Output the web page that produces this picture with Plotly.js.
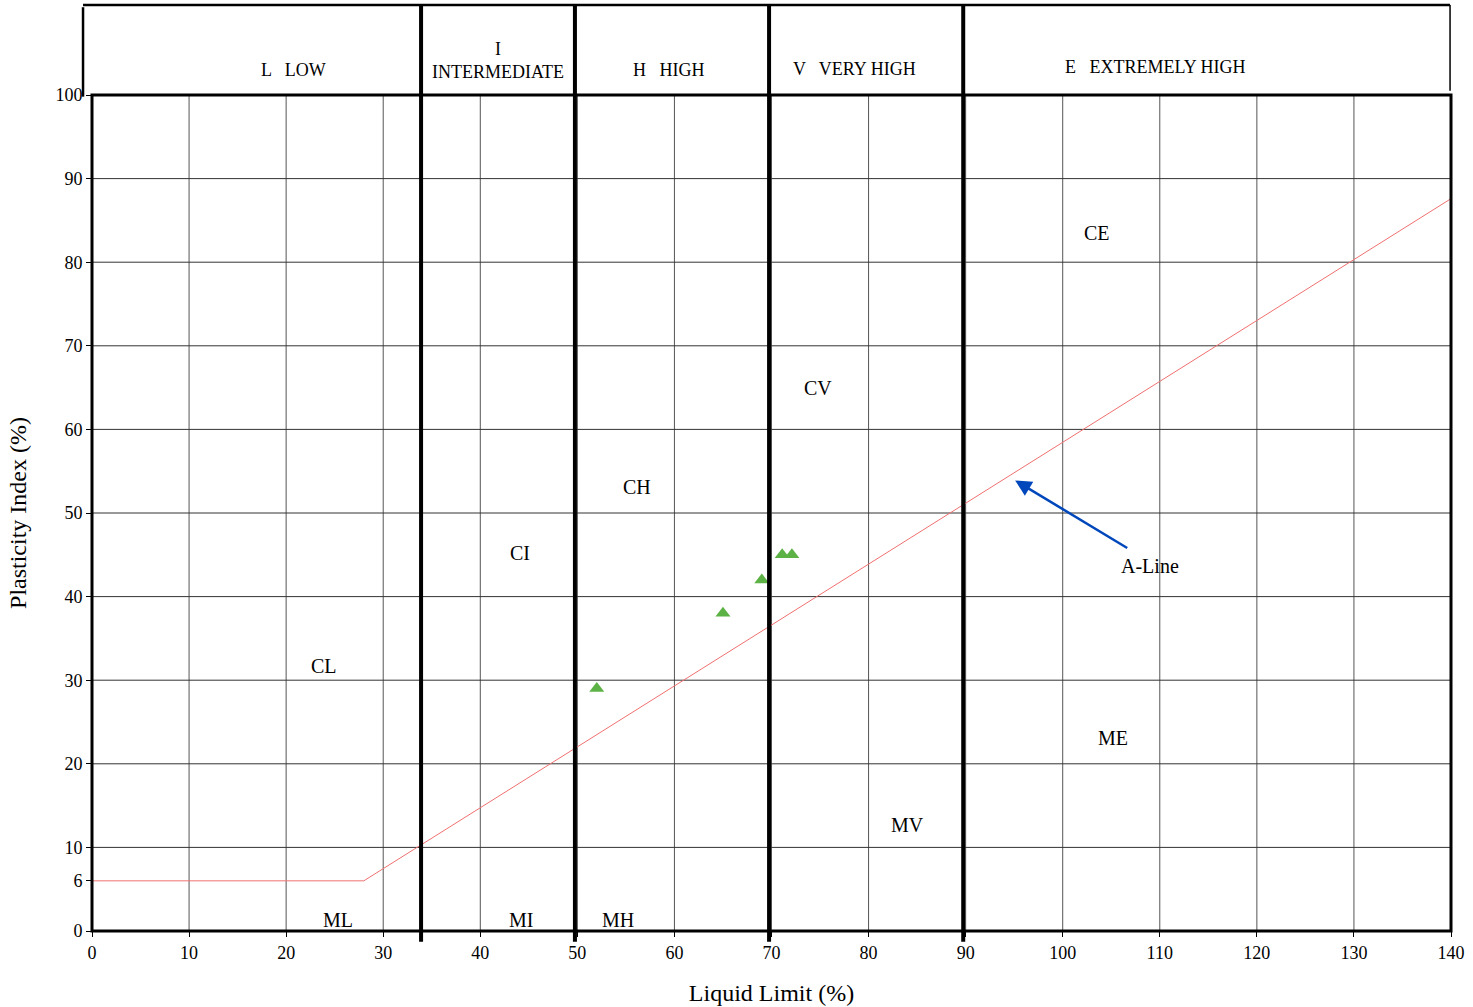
<!DOCTYPE html>
<html>
<head>
<meta charset="utf-8">
<script src="https://cdn.plot.ly/plotly-3.0.1.min.js"></script>
<style>html,body{margin:0;padding:0;background:#fff;}#chart{width:1473px;height:1007px;}</style>
</head>
<body>
<div id="chart"></div>
<script>
// Sample points
const liquidLimit = [52, 65, 69, 71.1, 72.1];
const plasticityIndex = [29, 38, 42, 45, 45];

// A-line vertices
const aLineLL = [0, 28, 140];
const aLinePI = [6, 6, 87.6];

// Zone boundaries (liquid limit) and header labels
const zoneBounds = [33.9, 49.75, 69.75, 89.75];
const zoneLabels = ["L   LOW", "I<br>INTERMEDIATE", "H   HIGH", "V   VERY HIGH", "E   EXTREMELY HIGH"];
const zoneLabelX = [20.8, 41.8, 59.4, 78.5, 109.6];
const zoneLabelY = [1.044, 1.069, 1.044, 1.046, 1.048];

// Region labels
const regionText = ["CL", "ML", "MI", "MH", "CI", "CH", "CV", "MV", "CE", "ME"];
const regionX = [23.9, 25.3, 44.2, 54.2, 44.1, 56.1, 74.8, 84, 103.5, 105.2];
const regionY = [31.7, 1.3, 1.3, 1.3, 45.2, 53.1, 65, 12.7, 83.5, 23.1];

// Ticks
const xTicks = [0,10,20,30,40,50,60,70,80,90,100,110,120,130,140];
const yTicks = [0,6,10,20,30,40,50,60,70,80,90,100];
const yGrid = [10,20,30,40,50,60,70,80,90];
const xGrid = [10,20,30,40,50,60,70,80,90,100,110,120,130];

const font = "Liberation Serif, Times New Roman, serif";

const shapes = [];
xGrid.forEach(v => shapes.push({type:'line', xref:'x', yref:'paper', x0:v, x1:v, y0:0, y1:1, line:{color:'#555', width:1}, layer:'below'}));
yGrid.forEach(v => shapes.push({type:'line', xref:'paper', yref:'y', x0:0, x1:1, y0:v, y1:v, line:{color:'#333', width:1}, layer:'below'}));
// header box
shapes.push({type:'line', xref:'paper', yref:'paper', x0:-0.0066, x1:0.9993, y0:1.1077, y1:1.1077, line:{color:'#000', width:2.5}});
shapes.push({type:'line', xref:'paper', yref:'paper', x0:-0.0066, x1:-0.0066, y0:1.105, y1:0.998, line:{color:'#000', width:2.5}});
shapes.push({type:'line', xref:'paper', yref:'paper', x0:0.9993, x1:0.9993, y0:1.1077, y1:1.005, line:{color:'#000', width:1.5}});
zoneBounds.forEach(v => shapes.push({type:'line', xref:'x', yref:'paper', x0:v, x1:v, y0:-0.013, y1:1.1077, line:{color:'#000', width:4}}));
// plot frame
shapes.push({type:'rect', xref:'paper', yref:'paper', x0:0, x1:1, y0:0, y1:1, line:{color:'#000', width:3}});

const annotations = [];
zoneLabels.forEach((t,i) => annotations.push({text:t, x:zoneLabelX[i], y:zoneLabelY[i], xref:'x', yref:'paper', showarrow:false, font:{family:font, size:18, color:'#000'}, align:'center'}));
regionText.forEach((t,i) => annotations.push({text:t, x:regionX[i], y:regionY[i], xref:'x', yref:'y', showarrow:false, font:{family:font, size:20, color:'#000'}}));
annotations.push({text:'A-Line', x:109, y:43.7, xref:'x', yref:'y', showarrow:false, font:{family:font, size:20, color:'#000'}});
annotations.push({text:'', x:95.1, y:53.9, ax:106.8, ay:45.7, xref:'x', yref:'y', axref:'x', ayref:'y', showarrow:true, arrowhead:2, arrowsize:1.3, arrowwidth:2.5, arrowcolor:'#0047bb'});

const traces = [
  {x:aLineLL, y:aLinePI, mode:'lines', line:{color:'#f07070', width:1}, hoverinfo:'skip', showlegend:false},
  {x:liquidLimit, y:plasticityIndex, mode:'markers', marker:{symbol:'triangle-up', size:13, color:'#5cb245'}, showlegend:false}
];

const layout = {
  width:1473, height:1007,
  margin:{l:92, r:22, t:95, b:76},
  paper_bgcolor:'#fff', plot_bgcolor:'#fff',
  font:{family:font, color:'#000'},
  showlegend:false,
  xaxis:{range:[0,140], tickvals:xTicks, ticktext:xTicks.map(String), showgrid:false, zeroline:false,
    ticks:'outside', ticklen:5, tickcolor:'#000', tickfont:{family:font, size:18}, showline:false,
    title:{text:'Liquid Limit (%)', font:{family:font, size:24}, standoff:22}},
  yaxis:{range:[0,100], tickvals:yTicks, ticktext:yTicks.map(String), showgrid:false, zeroline:false,
    ticks:'outside', ticklen:5, tickcolor:'#000', tickfont:{family:font, size:18}, showline:false,
    title:{text:'Plasticity Index (%)', font:{family:font, size:24}, standoff:22}},
  shapes:shapes,
  annotations:annotations
};

Plotly.newPlot('chart', traces, layout, {displayModeBar:false, staticPlot:true});
</script>
</body>
</html>
